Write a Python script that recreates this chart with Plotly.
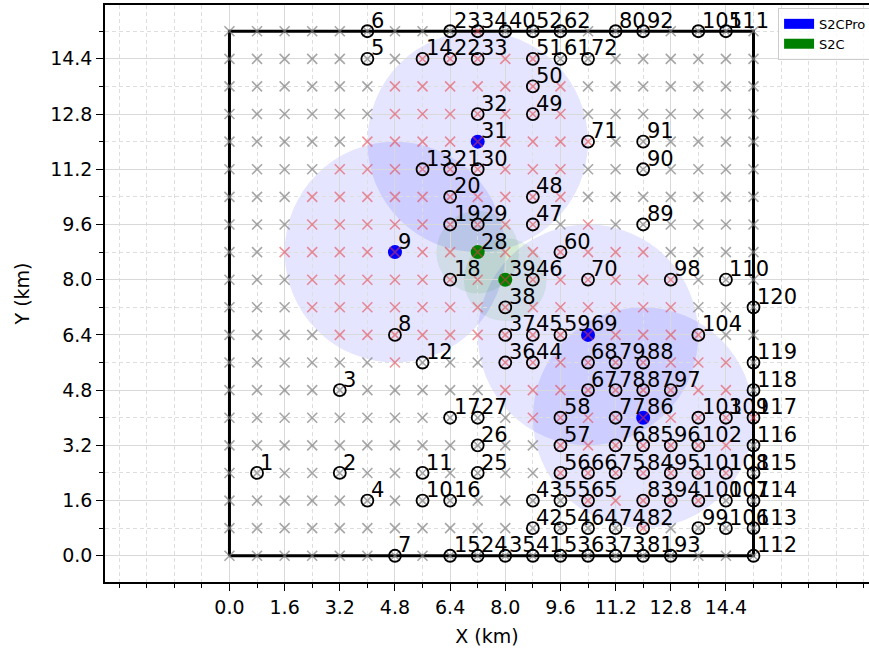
import numpy as np
import plotly.graph_objects as go

# ---------------- data ----------------
AREA_SIZE = 15.2  # km, side of the square deployment area
grid_coords = [0.0, 0.8, 1.6, 2.4, 3.2, 4.0, 4.8, 5.6, 6.4, 7.2, 8.0,
               8.8, 9.6, 10.4, 11.2, 12.0, 12.8, 13.6, 14.4, 15.2]

node_ids = list(range(1, 121))
node_x = ([0.8] + [3.2] * 2 + [4.0] * 3 + [4.8] * 3 + [5.6] * 5 + [6.4] * 9 +
          [7.2] * 11 + [8.0] * 6 + [8.8] * 12 + [9.6] * 10 + [10.4] * 10 +
          [11.2] * 8 + [12.0] * 12 + [12.8] * 6 + [13.6] * 7 + [14.4] * 6 +
          [15.2] * 9)
node_y = [2.4,
          2.4, 4.8,
          1.6, 14.4, 15.2,
          0.0, 6.4, 8.8,
          1.6, 2.4, 5.6, 11.2, 14.4,
          0.0, 1.6, 4.0, 8.0, 9.6, 10.4, 11.2, 14.4, 15.2,
          0.0, 2.4, 3.2, 4.0, 8.8, 9.6, 11.2, 12.0, 12.8, 14.4, 15.2,
          0.0, 5.6, 6.4, 7.2, 8.0, 15.2,
          0.0, 0.8, 1.6, 5.6, 6.4, 8.0, 9.6, 10.4, 12.8, 13.6, 14.4, 15.2,
          0.0, 0.8, 1.6, 2.4, 3.2, 4.0, 6.4, 8.8, 14.4, 15.2,
          0.0, 0.8, 1.6, 2.4, 4.8, 5.6, 6.4, 8.0, 12.0, 14.4,
          0.0, 0.8, 2.4, 3.2, 4.0, 4.8, 5.6, 15.2,
          0.0, 0.8, 1.6, 2.4, 3.2, 4.0, 4.8, 5.6, 9.6, 11.2, 12.0, 15.2,
          0.0, 1.6, 2.4, 3.2, 4.8, 8.0,
          0.8, 1.6, 2.4, 3.2, 4.0, 6.4, 15.2,
          0.8, 1.6, 2.4, 4.0, 8.0, 15.2,
          0.0, 0.8, 1.6, 2.4, 3.2, 4.0, 4.8, 5.6, 7.2]

s2cpro_ids = [9, 31, 69, 86]
s2cpro_radius = 3.2
s2c_ids = [28, 39]
s2c_radius = 1.2

major_ticks = [0.0, 1.6, 3.2, 4.8, 6.4, 8.0, 9.6, 11.2, 12.8, 14.4]

# ---------------- derived ----------------
pos = {i: (x, y) for i, x, y in zip(node_ids, node_x, node_y)}
stations = [(pos[i], s2cpro_radius) for i in s2cpro_ids] + \
           [(pos[i], s2c_radius) for i in s2c_ids]
station_set = set(s2cpro_ids) | set(s2c_ids)

gx, gy, covered = [], [], []
for x in grid_coords:
    for y in grid_coords:
        gx.append(x)
        gy.append(y)
        c = any(np.hypot(x - sx, y - sy) <= r + 1e-6 for (sx, sy), r in stations)
        covered.append(c)
gx = np.array(gx); gy = np.array(gy); covered = np.array(covered)

plain_x = [x for i, x in zip(node_ids, node_x) if i not in station_set]
plain_y = [y for i, y in zip(node_ids, node_y) if i not in station_set]

FONT = "DejaVu Sans"
fig = go.Figure()

# deployment area rectangle
fig.add_trace(go.Scatter(x=[0, AREA_SIZE, AREA_SIZE, 0, 0],
                         y=[0, 0, AREA_SIZE, AREA_SIZE, 0],
                         mode="lines", line=dict(color="black", width=3),
                         showlegend=False, hoverinfo="skip"))

# station dots
fig.add_trace(go.Scatter(x=[pos[i][0] for i in s2cpro_ids],
                         y=[pos[i][1] for i in s2cpro_ids], mode="markers",
                         marker=dict(color="blue", size=14, line=dict(width=0)),
                         showlegend=False))
fig.add_trace(go.Scatter(x=[pos[i][0] for i in s2c_ids],
                         y=[pos[i][1] for i in s2c_ids], mode="markers",
                         marker=dict(color="green", size=14, line=dict(width=0)),
                         showlegend=False))

# candidate grid
fig.add_trace(go.Scatter(x=gx[~covered], y=gy[~covered], mode="markers",
                         marker=dict(symbol="x-thin", size=10,
                                     line=dict(color="rgba(128,128,128,0.7)", width=1.6)),
                         showlegend=False))
fig.add_trace(go.Scatter(x=gx[covered], y=gy[covered], mode="markers",
                         marker=dict(symbol="x-thin", size=10,
                                     line=dict(color="rgba(230,60,70,0.55)", width=1.6)),
                         showlegend=False))

# nodes
fig.add_trace(go.Scatter(x=plain_x, y=plain_y, mode="markers",
                         marker=dict(symbol="circle-open", size=12, color="black",
                                     line=dict(color="black", width=1.8)),
                         showlegend=False))

# legend entries
fig.add_trace(go.Scatter(x=[None], y=[None], mode="lines", name="S2CPro",
                         line=dict(color="blue", width=10)))
fig.add_trace(go.Scatter(x=[None], y=[None], mode="lines", name="S2C",
                         line=dict(color="green", width=10)))

# coverage circles
shapes = []
for (sx, sy), r in stations:
    col = "rgba(0,0,255,0.1)" if r == s2cpro_radius else "rgba(0,128,0,0.09)"
    shapes.append(dict(type="circle", xref="x", yref="y",
                       x0=sx - r, x1=sx + r, y0=sy - r, y1=sy + r,
                       fillcolor=col, line=dict(width=0), layer="below"))

annotations = []
for i, x, y in zip(node_ids, node_x, node_y):
    annotations.append(dict(x=x + 0.1, y=y + 0.1, xref="x", yref="y",
                            text=str(i), showarrow=False,
                            xanchor="left", yanchor="bottom",
                            borderpad=0, borderwidth=0, yshift=-5,
                            font=dict(family=FONT, size=21, color="black")))

axis_common = dict(
    showline=True, linecolor="black", linewidth=1.5,
    ticks="outside", ticklen=7, tickwidth=1.2, tickcolor="black",
    tickmode="array", tickvals=major_ticks, tickformat=".1f",
    showgrid=True, gridcolor="#d9d9d9", gridwidth=1,
    zeroline=False, automargin=False,
    tickfont=dict(family=FONT, size=19, color="black"),
    minor=dict(tickmode="linear", tick0=0, dtick=0.8, ticks="outside",
               ticklen=4, tickwidth=1, tickcolor="black",
               showgrid=True, gridcolor="#dedede", gridwidth=1,
               griddash="4px,3px"),
)

fig.update_layout(
    width=869, height=652,
    margin=dict(l=105, r=0, t=5, b=70, autoexpand=False),
    paper_bgcolor="white", plot_bgcolor="white",
    font=dict(family=FONT, size=19, color="black"),
    shapes=shapes, annotations=annotations,
    xaxis=dict(range=[-3.61, 18.55], mirror=True,
               title=dict(text="X (km)", font=dict(family=FONT, size=19), standoff=13),
               **axis_common),
    yaxis=dict(range=[-0.76, 15.96], mirror=False,
               title=dict(text="Y (km)", font=dict(family=FONT, size=19), standoff=15),
               **axis_common),
    legend=dict(x=0.881, y=0.995, xanchor="left", yanchor="top",
                bgcolor="rgba(255,255,255,0.8)", bordercolor="#cccccc",
                borderwidth=1, itemwidth=30,
                font=dict(family=FONT, size=13, color="black")),
    showlegend=True,
)

fig.write_html("out.html")
